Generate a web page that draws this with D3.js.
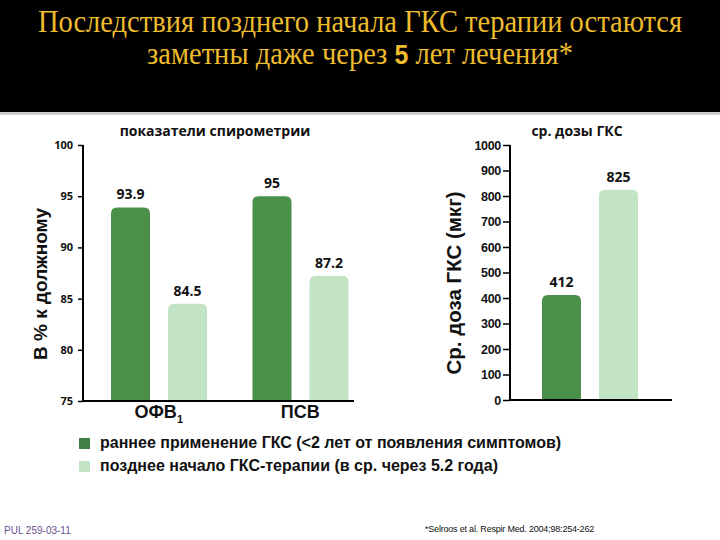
<!DOCTYPE html>
<html><head><meta charset="utf-8">
<script src="https://cdn.jsdelivr.net/npm/d3@7"></script>
<style>body{margin:0;background:#fff}svg{display:block}</style>
</head><body>
<svg id="c" width="720" height="540"></svg>
<script>
const spiroCategories = ["ОФВ1", "ПСВ"];
const seriesNames = ["раннее применение ГКС (<2 лет от появления симптомов)", "позднее начало ГКС-терапии (в ср. через 5.2 года)"];
const earlyValues = [93.9, 95];
const lateValues = [84.5, 87.2];
const spiroTicks = [75, 80, 85, 90, 95, 100];
const doseValues = [412, 825];
const doseTicks = [0, 100, 200, 300, 400, 500, 600, 700, 800, 900, 1000];
const colors = ["#4a8f4a", "#c3e3c5"];

const svg = d3.select("#c");
// header
svg.append("rect").attr("x",0).attr("y",0).attr("width",720).attr("height",112).attr("fill","#000");
svg.append("rect").attr("x",0).attr("y",112).attr("width",720).attr("height",3).attr("fill","#cfcfcf");
const gold = "#eebc2c";
const tg = svg.append("g").attr("transform","translate(360,0) scale(0.92,1)");
tg.append("text").attr("x",0).attr("y",32).attr("text-anchor","middle")
  .attr("font-family","Liberation Serif, Times New Roman, serif").attr("font-size",31).attr("fill",gold)
  .text("Последствия позднего начала ГКС терапии остаются");
const t2 = tg.append("text").attr("x",0).attr("y",64).attr("text-anchor","middle")
  .attr("font-family","Liberation Serif, Times New Roman, serif").attr("font-size",31).attr("fill",gold);
t2.append("tspan").text("заметны даже через ");
t2.append("tspan").attr("font-family","Liberation Sans, Arial, sans-serif").attr("font-weight","bold").attr("font-size",27).text("5");
t2.append("tspan").text(" лет лечения*");

function roundTopBar(x, y, w, h, r) {
  r = Math.min(r, h, w/2);
  return `M${x},${y+h}V${y+r}Q${x},${y} ${x+r},${y}H${x+w-r}Q${x+w},${y} ${x+w},${y+r}V${y+h}Z`;
}

// ---- left chart
const ly = d3.scaleLinear().domain([75,100]).range([401,145]);
const lx = d3.scaleBand().domain(spiroCategories).range([88, 371]).padding(0);
const inner = d3.scaleBand().domain([0,1]).range([23,119]).paddingInner(0.316);
const gL = svg.append("g");
const yAxL = d3.axisLeft(ly).tickValues(spiroTicks).tickSize(5).tickPadding(5).tickFormat(d3.format("d"));
const ya = gL.append("g").attr("transform","translate(83,0)").call(yAxL);
ya.select(".domain").remove();
ya.selectAll(".tick line").attr("stroke","#000").attr("stroke-width",1.5);
ya.selectAll(".tick text").attr("font-family","Open Sans, sans-serif").attr("font-weight","bold").attr("font-size",11).attr("fill","#111");
gL.append("line").attr("x1",83).attr("x2",83).attr("y1",145).attr("y2",402).attr("stroke","#000").attr("stroke-width",2);
gL.append("line").attr("x1",82).attr("x2",354).attr("y1",401).attr("y2",401).attr("stroke","#000").attr("stroke-width",2);

const spiroData = [];
spiroCategories.forEach((c,i)=>{ spiroData.push({c, s:0, v:earlyValues[i]}); spiroData.push({c, s:1, v:lateValues[i]}); });
gL.selectAll("path.bar").data(spiroData).join("path").attr("class","bar")
  .attr("d", d => roundTopBar(lx(d.c)+inner(d.s), ly(d.v), inner.bandwidth(), ly(75)-ly(d.v)-1, 6))
  .attr("fill", d => colors[d.s]);
gL.selectAll("text.val").data(spiroData).join("text").attr("class","val")
  .attr("x", d => lx(d.c)+inner(d.s)+inner.bandwidth()/2).attr("y", d => ly(d.v)-8)
  .attr("text-anchor","middle").attr("font-family","Open Sans, sans-serif").attr("font-weight","bold").attr("font-size",14).attr("fill","#111")
  .text(d => String(d.v));
// category labels
spiroCategories.forEach(c=>{
  const t = gL.append("text").attr("x", lx(c)+lx.bandwidth()/2).attr("y",418).attr("text-anchor","middle")
    .attr("font-family","Liberation Sans, Arial, sans-serif").attr("font-weight","bold").attr("font-size",18).attr("fill","#111");
  if (c.endsWith("1")) {
    t.append("tspan").text(c.slice(0,-1));
    t.append("tspan").attr("font-size",11).attr("dy",5).text("1");
  } else t.text(c);
});
gL.append("text").attr("x",215).attr("y",136).attr("text-anchor","middle")
  .attr("font-family","Open Sans, sans-serif").attr("font-weight","bold").attr("font-size",14).attr("fill","#111")
  .text("показатели спирометрии");
gL.append("text").attr("transform","translate(47,284) rotate(-90)").attr("text-anchor","middle")
  .attr("font-family","Liberation Sans, Arial, sans-serif").attr("font-weight","bold").attr("font-size",19).attr("fill","#111")
  .text("В % к должному");

// ---- right chart
const ry = d3.scaleLinear().domain([0,1000]).range([400,145]);
const rx = d3.scaleBand().domain([0,1]).range([542,638]).paddingInner(0.316);
const gR = svg.append("g");
const yAxR = d3.axisLeft(ry).tickValues(doseTicks).tickSize(7).tickPadding(2).tickFormat(d3.format("d"));
const yr = gR.append("g").attr("transform","translate(510,0)").call(yAxR);
yr.select(".domain").remove();
yr.selectAll(".tick line").attr("stroke","#000").attr("stroke-width",1.5);
yr.selectAll(".tick text").attr("font-family","Liberation Sans, Arial, sans-serif").attr("font-weight","bold").attr("font-size",12.5).attr("letter-spacing",-0.3).attr("fill","#111");
gR.append("line").attr("x1",510).attr("x2",510).attr("y1",145).attr("y2",401).attr("stroke","#000").attr("stroke-width",2);
gR.append("line").attr("x1",509).attr("x2",672).attr("y1",400).attr("y2",400).attr("stroke","#000").attr("stroke-width",2);
const doseData = doseValues.map((v,i)=>({s:i, v}));
gR.selectAll("path.bar").data(doseData).join("path").attr("class","bar")
  .attr("d", d => roundTopBar(rx(d.s), ry(d.v), rx.bandwidth(), ry(0)-ry(d.v)-1, 6))
  .attr("fill", d => colors[d.s]);
gR.selectAll("text.val").data(doseData).join("text").attr("class","val")
  .attr("x", d => rx(d.s)+rx.bandwidth()/2).attr("y", d => ry(d.v)-8)
  .attr("text-anchor","middle").attr("font-family","Open Sans, sans-serif").attr("font-weight","bold").attr("font-size",14).attr("fill","#111")
  .text(d => String(d.v));
gR.append("text").attr("x",577).attr("y",136).attr("text-anchor","middle")
  .attr("font-family","Open Sans, sans-serif").attr("font-weight","bold").attr("font-size",14).attr("fill","#111")
  .text("ср. дозы ГКС");
gR.append("text").attr("transform","translate(461,283) rotate(-90)").attr("text-anchor","middle")
  .attr("font-family","Liberation Sans, Arial, sans-serif").attr("font-weight","bold").attr("font-size",20.5).attr("fill","#111")
  .text("Ср. доза ГКС (мкг)");

// ---- legend
const lg = svg.append("g");
seriesNames.forEach((n,i)=>{
  lg.append("rect").attr("x",79).attr("y",438+i*23).attr("width",11).attr("height",11).attr("fill", i===0 ? "#3f7f45" : colors[1]);
  lg.append("text").attr("x",100).attr("y",448+i*23).attr("font-family","Liberation Sans, Arial, sans-serif")
    .attr("font-weight","bold").attr("font-size",16).attr("fill","#111").text(n);
});

// ---- footer
svg.append("text").attr("x",4).attr("y",534).attr("font-family","Liberation Sans, Arial, sans-serif").attr("font-size",10).attr("fill","#6b4f8f").text("PUL 259-03-11");
svg.append("text").attr("x",425).attr("y",532).attr("font-family","Liberation Sans, Arial, sans-serif").attr("font-size",9).attr("fill","#111").attr("letter-spacing",-0.2).text("*Selroos et al. Respir Med. 2004;98:254-262");
</script>
</body></html>
